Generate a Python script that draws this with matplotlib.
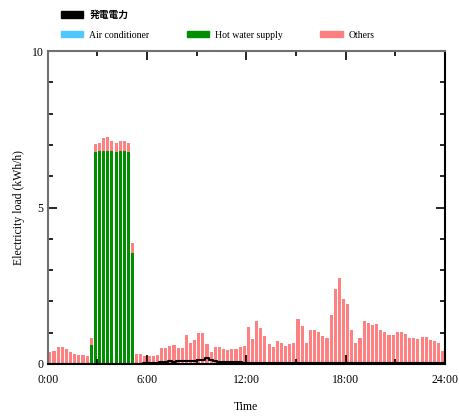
import matplotlib
matplotlib.use("Agg")
import matplotlib.pyplot as plt
from matplotlib.patches import Patch
from matplotlib.ticker import MultipleLocator, FixedLocator

plt.rcParams['font.family'] = ['Liberation Serif', 'Noto Sans CJK JP']

# 15-minute slots, 96 per day (hours)
slot_hours = [0.125 + 0.25 * i for i in range(96)]

# total bar height per slot (kWh/h)
total_load = [
    0.38, 0.42, 0.54, 0.54, 0.48, 0.39, 0.32, 0.29, 0.29, 0.26,
    0.83,
    7.03, 7.06, 7.22, 7.25, 7.12, 7.06, 7.12, 7.12, 7.06, 3.87,
    0.32, 0.32, 0.26, 0.26, 0.26, 0.29, 0.51, 0.51, 0.58, 0.61,
    0.51, 0.51, 0.93, 0.67, 0.77, 0.99, 0.99, 0.64, 0.38, 0.54,
    0.54, 0.48, 0.45, 0.48, 0.48,
    0.54, 0.58, 1.18, 0.80, 1.37, 1.15, 0.89, 0.64, 0.54, 0.73,
    0.67, 0.58, 0.64, 0.67, 1.44, 1.21, 0.67, 1.09, 1.09, 1.02,
    0.89, 0.83, 1.57, 2.40, 2.75,
    2.08, 1.92, 1.09, 0.67, 0.83, 1.37, 1.31, 1.25, 1.28, 1.09,
    1.02, 0.93, 0.93, 1.02, 1.02, 0.96, 0.83, 0.83, 0.80, 0.86,
    0.86, 0.77, 0.73, 0.67, 0.42,
]

hot_water = [0.0] * 10 + [0.60,
    6.77, 6.80, 6.80, 6.80, 6.80, 6.77, 6.80, 6.80, 6.77, 3.55] + [0.0] * 75

air_cond = [0.0] * 34 + [0.02] * 46 + [0.0] * 16

generation = [0.0] * 22 + [
    0.01, 0.02, 0.03, 0.03, 0.04, 0.05, 0.06, 0.08, 0.07, 0.09,
    0.08, 0.10, 0.09, 0.10, 0.12, 0.14, 0.19, 0.12, 0.08, 0.06,
    0.05, 0.05, 0.05, 0.05, 0.05, 0.04] + [0.03] * 38 + [0.02] * 10

others = [t - h - a for t, h, a in zip(total_load, hot_water, air_cond)]

c_ac = '#4FC8FF'
c_hw = '#008F00'
c_ot = '#FF8080'

fig = plt.figure(figsize=(4.6, 4.16), dpi=100)
ax = fig.add_axes([0.104, 0.125, 0.863, 0.752])

w = 0.25 * 0.75
ax.bar(slot_hours, air_cond, width=w, color=c_ac)
ax.bar(slot_hours, hot_water, width=w, bottom=air_cond, color=c_hw)
bottom2 = [a + h for a, h in zip(air_cond, hot_water)]
ax.bar(slot_hours, others, width=w, bottom=bottom2, color=c_ot)
ax.plot(slot_hours, generation, drawstyle='steps-mid', color='black', lw=1.5)

ax.set_xlim(0, 24)
ax.set_ylim(0, 10)
ax.xaxis.set_major_locator(FixedLocator([0, 6, 12, 18, 24]))
ax.set_xticklabels(['0:00', '6:00', '12:00', '18:00', '24:00'])
ax.xaxis.set_minor_locator(MultipleLocator(3))
ax.yaxis.set_major_locator(FixedLocator([0, 5, 10]))
ax.yaxis.set_minor_locator(MultipleLocator(1))
ax.tick_params(which='both', direction='in', top=True, right=True,
               labelsize=8.5, width=1.2)
ax.tick_params(which='major', length=6.5)
ax.tick_params(which='minor', length=3.5)
ax.tick_params(axis='x', which='major', pad=7)
ax.tick_params(axis='y', which='major', pad=3)

for s in ['left', 'top']:
    ax.spines[s].set_color('#707070')
for s in ['right', 'bottom']:
    ax.spines[s].set_color('black')
for s in ax.spines.values():
    s.set_linewidth(1.5)

ax.set_xlabel('Time', fontsize=8.5, labelpad=11)
ax.set_ylabel('Electricity load (kWh/h)', fontsize=8.5, labelpad=5)

handles = [Patch(color='black'), Patch(color=c_ac),
           Patch(color='none'), Patch(color=c_hw),
           Patch(color='none'), Patch(color=c_ot)]
labels = ['発電電力', 'Air conditioner', '', 'Hot water supply', '', 'Others']
leg = fig.legend(handles, labels, ncol=3, loc='upper left',
                 bbox_to_anchor=(0.116, 0.995), frameon=False, fontsize=7,
                 handlelength=2.3, handleheight=0.6, handletextpad=0.6,
                 columnspacing=3.85, labelspacing=1.1, borderpad=0.3)
t0 = leg.get_texts()[0]
t0.set_fontfamily(['Noto Sans CJK JP'])
t0.set_fontweight('bold')

fig.savefig('out.png', dpi=100)
